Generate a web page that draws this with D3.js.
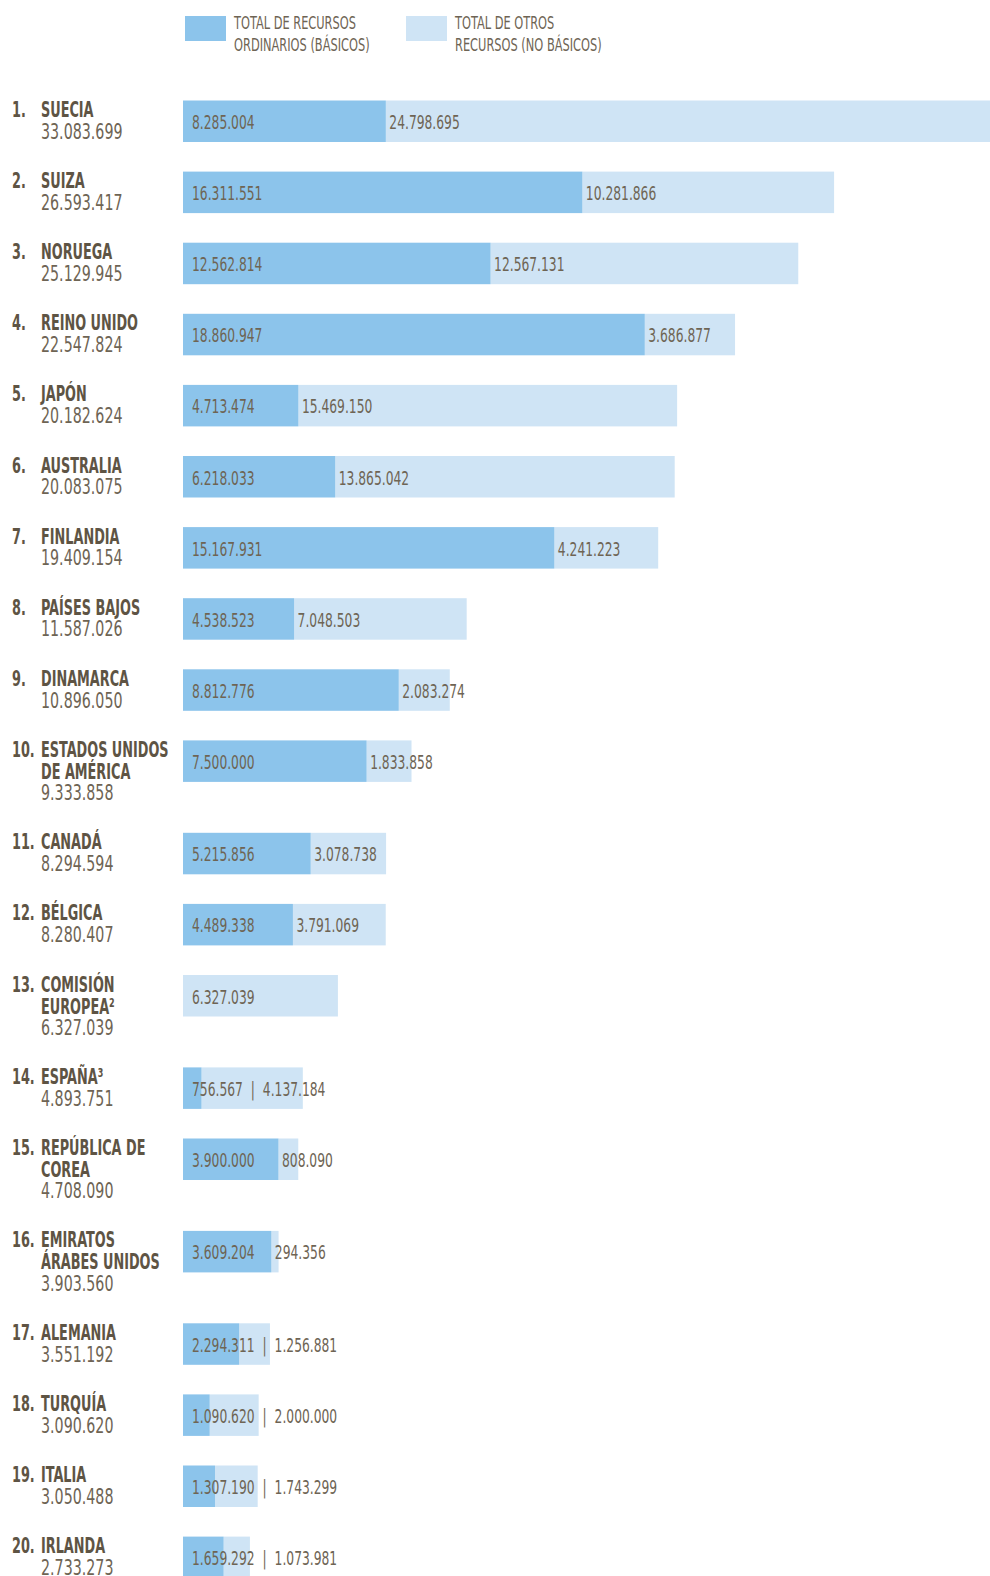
<!DOCTYPE html>
<html>
<head>
<meta charset="utf-8">
<script src="https://cdn.jsdelivr.net/npm/d3@7"></script>
<style>
  body { margin: 0; background: #fff; }
  svg { display: block; }
</style>
</head>
<body>
<div id="chart"></div>
<script>
// donantes, recursos ordinarios y otros recursos (US$)
const countries = [
    ["SUECIA"], ["SUIZA"], ["NORUEGA"], ["REINO UNIDO"], ["JAPÓN"],
    ["AUSTRALIA"], ["FINLANDIA"], ["PAÍSES BAJOS"], ["DINAMARCA"],
    ["ESTADOS UNIDOS", "DE AMÉRICA"], ["CANADÁ"], ["BÉLGICA"],
    ["COMISIÓN", "EUROPEA²"], ["ESPAÑA³"], ["REPÚBLICA DE", "COREA"],
    ["EMIRATOS", "ÁRABES UNIDOS"], ["ALEMANIA"], ["TURQUÍA"], ["ITALIA"], ["IRLANDA"]
];
const totales = [33083699, 26593417, 25129945, 22547824, 20182624, 20083075, 19409154, 11587026, 10896050, 9333858,
    8294594, 8280407, 6327039, 4893751, 4708090, 3903560, 3551192, 3090620, 3050488, 2733273];
const basicos = [8285004, 16311551, 12562814, 18860947, 4713474, 6218033, 15167931, 4538523, 8812776, 7500000,
    5215856, 4489338, 0, 756567, 3900000, 3609204, 2294311, 1090620, 1307190, 1659292];
const otros = [24798695, 10281866, 12567131, 3686877, 15469150, 13865042, 4241223, 7048503, 2083274, 1833858,
    3078738, 3791069, 6327039, 4137184, 808090, 294356, 1256881, 2000000, 1743299, 1073981];
const legendLabels = [["TOTAL DE RECURSOS", "ORDINARIOS (BÁSICOS)"], ["TOTAL DE OTROS", "RECURSOS (NO BÁSICOS)"]];

const width = 990, height = 1576;
const colorBasico = "#8cc4eb", colorOtro = "#cfe4f5";
const textDark = "#5e5444", textMid = "#6e6454";
const FONT = "'DejaVu Sans Condensed', 'DejaVu Sans', sans-serif";

const fmt = d3.formatLocale({ decimal: ",", thousands: ".", grouping: [3], currency: ["", ""] }).format(",d");

const rows = countries.map((name, i) => ({
    rank: i + 1, name, basico: basicos[i], otro: otros[i], total: totales[i]
}));

// vertical layout: rows with a two-line name take more room
let yPos = 100.5;
rows.forEach(d => {
    d.y = yPos;
    yPos += 71.1 + (d.name.length - 1) * 21.3;
});

const barH = 41.5;
const x = d3.scaleLinear()
    .domain([0, d3.max(rows, d => d.basico + d.otro)])
    .range([183, 993]);

const svg = d3.select("#chart").append("svg")
    .attr("width", width)
    .attr("height", height)
    .style("font-family", FONT);

function addText(parent, tx, ty, size, sx, weight, fill, str) {
    return parent.append("text")
        .attr("transform", `translate(${tx},${ty}) scale(${sx},1)`)
        .attr("font-size", size)
        .attr("font-weight", weight)
        .attr("fill", fill)
        .text(str);
}

// legend
const legend = svg.append("g");
[colorBasico, colorOtro].forEach((c, i) => {
    const lx = 185 + i * 221;
    legend.append("rect")
        .attr("x", lx).attr("y", 16)
        .attr("width", 41).attr("height", 25)
        .attr("fill", c);
    legendLabels[i].forEach((line, j) => {
        addText(legend, lx + 49, 29 + j * 22, 17, 0.745, "normal", textMid, line);
    });
});

// bars
const g = svg.selectAll(".row")
    .data(rows)
    .enter()
    .append("g")
    .attr("class", "row");

g.append("rect")
    .attr("x", d => x(d.basico))
    .attr("y", d => d.y)
    .attr("width", d => x(d.basico + d.otro) - x(d.basico))
    .attr("height", barH)
    .attr("fill", colorOtro);

g.append("rect")
    .attr("x", x(0))
    .attr("y", d => d.y)
    .attr("width", d => x(d.basico) - x(0))
    .attr("height", barH)
    .attr("fill", colorBasico);

// left labels and values on the bars
g.each(function(d) {
    const row = d3.select(this);
    const base = d.y + 16.5;
    addText(row, 12, base, 21, 0.68, "bold", textDark, d.rank + ".");
    d.name.forEach((line, j) => {
        addText(row, 41, base + j * 22, 21, 0.68, "bold", textDark, line);
    });
    addText(row, 41, base + d.name.length * 21.7, 22, 0.72, "normal", textMid, fmt(d.total));

    const vy = d.y + 28.5;
    const sx = 0.72;
    if (d.basico === 0) {
        addText(row, x(0) + 9, vy, 19, sx, "normal", textMid, fmt(d.otro));
        return;
    }
    const t = addText(row, x(0) + 9, vy, 19, sx, "normal", textMid, fmt(d.basico));
    const w = t.node().getComputedTextLength() * sx;
    if (x(d.basico) - x(0) < w + 12) {
        t.append("tspan").attr("dx", 11).text("|");
        t.append("tspan").attr("dx", 11).text(fmt(d.otro));
    } else {
        addText(row, x(d.basico) + 3.5, vy, 19, sx, "normal", textMid, fmt(d.otro));
    }
});
</script>
</body>
</html>
